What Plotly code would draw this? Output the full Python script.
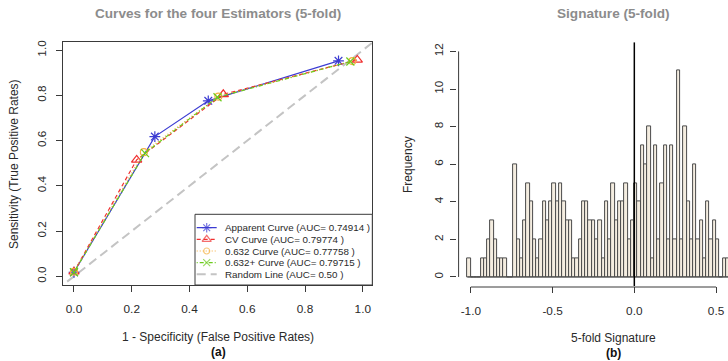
import numpy as np
import plotly.graph_objects as go

W, H = 728, 361

# ---------------- ROC curves (panel a) ----------------
apparent_fpr = [0.0, 0.28, 0.465, 0.916]
apparent_tpr = [0.018, 0.618, 0.776, 0.953]
cv_fpr = [0.0, 0.217, 0.517, 0.981]
cv_tpr = [0.02, 0.515, 0.805, 0.957]
b632_fpr = [0.0, 0.242, 0.50, 0.964]
b632_tpr = [0.02, 0.549, 0.795, 0.952]
b632p_fpr = [0.0, 0.246, 0.497, 0.957]
b632p_tpr = [0.018, 0.545, 0.792, 0.950]
random_fpr = [-0.1, 1.1]
random_tpr = [-0.1, 1.1]

legend_labels = [
    "Apparent Curve (AUC= 0.74914 )",
    "CV Curve (AUC= 0.79774 )",
    "0.632 Curve (AUC= 0.77758 )",
    "0.632+ Curve (AUC= 0.79715 )",
    "Random Line (AUC= 0.50 )",
]
roc_ticks = [0.0, 0.2, 0.4, 0.6, 0.8, 1.0]
roc_ticktext = ["0.0", "0.2", "0.4", "0.6", "0.8", "1.0"]

# ---------------- Histogram (panel b) ----------------
bin_start = -1.02
bin_width = 0.02
counts = [1, 0, 0, 0, 1, 1, 2, 3, 2, 1,
          1, 1, 0, 0, 6, 2, 1, 3, 5, 4,
          2, 1, 2, 4, 3, 4, 5, 4, 5, 4,
          3, 3, 1, 1, 2, 4, 4, 3, 3, 2,
          3, 1, 4, 2, 5, 3, 4, 4, 5, 2,
          3, 5, 4, 7, 6, 8, 1, 7, 2, 5,
          7, 2, 7, 2, 11, 2, 8, 4, 2, 6,
          2, 3, 1, 4, 2, 3, 2, 0, 1, 1]
hist_xticks = [-1.0, -0.5, 0.0, 0.5]
hist_xticktext = ["-1.0", "-0.5", "0.0", "0.5"]
hist_yticks = [0, 2, 4, 6, 8, 10, 12]

bin_centers = np.round(bin_start + bin_width * (np.arange(len(counts)) + 0.5), 4)

FONT = "Liberation Sans, Arial, sans-serif"
AX = "#3a3a3a"
TXT = "#2a2a2a"
TITLE_C = "#8c8c8c"


def fx(p):
    return p / W


def fy(p):
    return 1 - p / H


fig = go.Figure()

styles = [
    dict(x=apparent_fpr, y=apparent_tpr, color="#3c3cd2", dash="solid", symbol="asterisk-open", size=9),
    dict(x=cv_fpr, y=cv_tpr, color="#f03030", dash="4px,3px", symbol="triangle-up-open", size=9),
    dict(x=b632_fpr, y=b632_tpr, color="#f5b040", dash="1px,2px", symbol="circle-open", size=7),
    dict(x=b632p_fpr, y=b632p_tpr, color="#6ccc1c", dash="1px,2px,4px,2px", symbol="x-thin-open", size=8),
]

fig.add_trace(go.Scatter(x=random_fpr, y=random_tpr, mode="lines",
                         line=dict(color="#c4c4c4", width=2, dash="9px,5px"),
                         xaxis="x", yaxis="y", showlegend=False, hoverinfo="skip"))
for s in styles:
    fig.add_trace(go.Scatter(
        x=s["x"], y=s["y"], mode="lines+markers",
        line=dict(color=s["color"], width=1.2, dash=s["dash"]),
        marker=dict(symbol=s["symbol"], size=s["size"], color=s["color"],
                    line=dict(color=s["color"], width=1.2)),
        xaxis="x", yaxis="y", showlegend=False, cliponaxis=False))

# ---- manual legend (pixel coordinate overlay axes) ----
leg_x0, leg_x1, leg_top, leg_bot = 195.0, 372.3, 214.3, 285.0
rows = [227.7, 239.3, 251.0, 262.7, 274.3]
seg = [196.7, 206.7, 216.7]
for i, s in enumerate(styles):
    fig.add_trace(go.Scatter(
        x=seg, y=[rows[i]] * 3, mode="lines+markers",
        line=dict(color=s["color"], width=1.2, dash=s["dash"]),
        marker=dict(symbol=s["symbol"], size=[0, s["size"] - 1, 0], color=s["color"],
                    line=dict(color=s["color"], width=1.2)),
        xaxis="x3", yaxis="y3", showlegend=False, cliponaxis=False, hoverinfo="skip"))
fig.add_trace(go.Scatter(x=[seg[0], seg[2]], y=[rows[4]] * 2, mode="lines",
                         line=dict(color="#c4c4c4", width=2, dash="9px,5px"),
                         xaxis="x3", yaxis="y3", showlegend=False, hoverinfo="skip"))

annotations = []
for i, lab in enumerate(legend_labels):
    annotations.append(dict(x=223.3, y=rows[i], xref="x3", yref="y3", text=lab,
                            showarrow=False, xanchor="left", yanchor="middle",
                            font=dict(family=FONT, size=9.8, color=TXT)))

# ---- histogram ----
fig.add_trace(go.Bar(x=bin_centers, y=counts, width=bin_width,
                     marker=dict(color="#f4ede0", line=dict(color="#4a4a4a", width=1)),
                     xaxis="x2", yaxis="y2", showlegend=False))

shapes = [
    # legend box
    dict(type="rect", xref="paper", yref="paper", x0=fx(leg_x0), x1=fx(leg_x1),
         y0=fy(leg_bot), y1=fy(leg_top), line=dict(color=AX, width=1)),
    # histogram baseline at zero
    dict(type="line", xref="x2", yref="y2", x0=bin_start, x1=bin_start + bin_width * len(counts),
         y0=0, y1=0, line=dict(color="#4a4a4a", width=1)),
    # vertical line at 0
    dict(type="line", xref="x2", yref="y2 domain", x0=0, x1=0, y0=0, y1=1,
         line=dict(color="#000000", width=1.5)),
    # histogram x axis line (between first and last tick)
    dict(type="line", xref="x2", yref="paper", x0=hist_xticks[0], x1=hist_xticks[-1],
         y0=fy(287.0), y1=fy(287.0), line=dict(color=AX, width=1)),
    # histogram y axis line
    dict(type="line", xref="paper", yref="y2", x0=fx(458.6), x1=fx(458.6),
         y0=hist_yticks[0], y1=hist_yticks[-1], line=dict(color=AX, width=1)),
]

# titles and axis labels
annotations += [
    dict(x=fx(217.8), y=fy(13.5), xref="paper", yref="paper",
         text="<b>Curves for the four Estimators (5-fold)</b>", showarrow=False,
         font=dict(family=FONT, size=13.6, color=TITLE_C), xanchor="center", yanchor="middle"),
    dict(x=fx(613.7), y=fy(13.5), xref="paper", yref="paper",
         text="<b>Signature (5-fold)</b>", showarrow=False,
         font=dict(family=FONT, size=13.6, color=TITLE_C), xanchor="center", yanchor="middle"),
    dict(x=fx(218), y=fy(336.7), xref="paper", yref="paper",
         text="1 - Specificity (False Positive Rates)", showarrow=False,
         font=dict(family=FONT, size=12, color=TXT), xanchor="center", yanchor="middle"),
    dict(x=fx(218), y=fy(352.3), xref="paper", yref="paper", text="<b>(a)</b>", showarrow=False,
         font=dict(family=FONT, size=12, color="#111"), xanchor="center", yanchor="middle"),
    dict(x=fx(613.3), y=fy(337.7), xref="paper", yref="paper", text="5-fold Signature",
         showarrow=False, font=dict(family=FONT, size=12, color=TXT),
         xanchor="center", yanchor="middle"),
    dict(x=fx(613.3), y=fy(352.7), xref="paper", yref="paper", text="<b>(b)</b>", showarrow=False,
         font=dict(family=FONT, size=12, color="#111"), xanchor="center", yanchor="middle"),
    dict(x=fx(13.3), y=fy(163.7), xref="paper", yref="paper",
         text="Sensitivity (True Positive Rates)", textangle=-90, showarrow=False,
         font=dict(family=FONT, size=12, color=TXT), xanchor="center", yanchor="middle"),
    dict(x=fx(408), y=fy(165), xref="paper", yref="paper", text="Frequency", textangle=-90,
         showarrow=False, font=dict(family=FONT, size=12, color=TXT),
         xanchor="center", yanchor="middle"),
]

tickfont = dict(family=FONT, size=11.8, color=TXT)
common = dict(showgrid=False, zeroline=False, ticks="outside", tickcolor=AX, tickwidth=1,
              tickfont=tickfont)

fig.update_layout(
    width=W, height=H, margin=dict(l=0, r=0, t=0, b=0),
    paper_bgcolor="white", plot_bgcolor="white", showlegend=False,
    bargap=0,
    xaxis=dict(domain=[fx(63.3), fx(372.3)], range=[-0.037, 1.033], anchor="y",
               tickvals=roc_ticks, ticktext=roc_ticktext, ticklen=6,
               showline=True, mirror=True, linecolor=AX, linewidth=1,
               ticklabelstandoff=7, automargin=False, **common),
    yaxis=dict(domain=[fy(285.0), fy(42.3)], range=[-0.0385, 1.035], anchor="x",
               tickvals=roc_ticks, ticktext=roc_ticktext, ticklen=6, tickangle=-90,
               showline=True, mirror=True, linecolor=AX, linewidth=1,
               ticklabelstandoff=6, automargin=False, **common),
    xaxis2=dict(domain=[fx(457.1), 1.0], range=[-1.084, 0.573], anchor="y2",
                tickvals=hist_xticks, ticktext=hist_xticktext, ticklen=6, showline=False,
                ticklabelstandoff=8, automargin=False, **common),
    yaxis2=dict(domain=[fy(286.0), fy(42.4)], range=[-0.48, 12.48], anchor="x2",
                tickvals=hist_yticks, ticklen=6, tickangle=-90, showline=False,
                ticklabelstandoff=2, automargin=False, **common),
    xaxis3=dict(domain=[fx(leg_x0), fx(leg_x1)], range=[leg_x0, leg_x1], anchor="y3",
                visible=False, fixedrange=True),
    yaxis3=dict(domain=[fy(leg_bot), fy(leg_top)], range=[leg_bot, leg_top], anchor="x3",
                visible=False, fixedrange=True),
    shapes=shapes,
    annotations=annotations,
)

fig.write_html("out.html", config={"displayModeBar": False},
               post_script="document.body.style.margin='0px';document.body.style.overflow='hidden';")
